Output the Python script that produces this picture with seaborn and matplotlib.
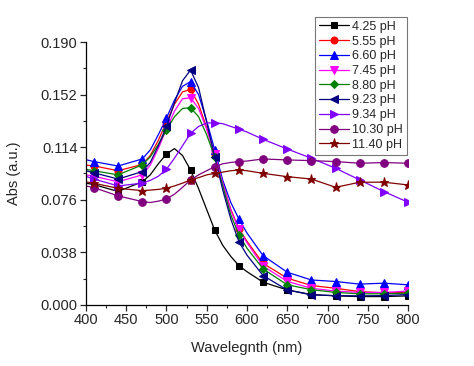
import numpy as np
import pandas as pd
import matplotlib
matplotlib.use("Agg")
import matplotlib.pyplot as plt
from matplotlib.ticker import MultipleLocator, FormatStrFormatter
import seaborn as sns

# wavelength grid (nm) and absorbance
wavelength = [400, 410, 440, 470, 480, 490, 500, 510, 520, 530, 540, 550,
              560, 570, 580, 590, 600, 620, 650, 680, 710, 740, 770, 800]
marker_wl = [410, 440, 470, 500, 530, 560, 590, 620, 650, 680, 710, 740, 770, 800]

labels = ["4.25 pH", "5.55 pH", "6.60 pH", "7.45 pH", "8.80 pH",
          "9.23 pH", "9.34 pH", "10.30 pH", "11.40 pH"]

abs_425 = [0.088, 0.087, 0.082, 0.089, 0.094, 0.102, 0.109, 0.113, 0.108, 0.0975, 0.084, 0.069,
           0.054, 0.043, 0.035, 0.0284, 0.024, 0.0164, 0.0108, 0.0075, 0.0065, 0.006, 0.006, 0.0065]
abs_555 = [0.101, 0.1005, 0.097, 0.1015, 0.108, 0.119, 0.132, 0.145, 0.154, 0.1558, 0.145, 0.128,
           0.109, 0.088, 0.069, 0.055, 0.046, 0.030, 0.0193, 0.014, 0.012, 0.0096, 0.0087, 0.009]
abs_660 = [0.105, 0.1036, 0.1004, 0.1055, 0.112, 0.123, 0.135, 0.148, 0.158, 0.1614, 0.152, 0.133,
           0.112, 0.090, 0.074, 0.062, 0.052, 0.0356, 0.0236, 0.018, 0.0169, 0.015, 0.0157, 0.0145]
abs_745 = [0.094, 0.093, 0.089, 0.094, 0.101, 0.113, 0.127, 0.140, 0.149, 0.1498, 0.142, 0.127,
           0.109, 0.088, 0.068, 0.0547, 0.045, 0.028, 0.017, 0.012, 0.010, 0.009, 0.009, 0.010]
abs_880 = [0.098, 0.097, 0.094, 0.1012, 0.107, 0.116, 0.1264, 0.136, 0.142, 0.1426, 0.136, 0.123,
           0.107, 0.086, 0.065, 0.0506, 0.041, 0.026, 0.0145, 0.011, 0.009, 0.008, 0.008, 0.0085]
abs_923 = [0.097, 0.0955, 0.091, 0.0963, 0.103, 0.115, 0.129, 0.146, 0.162, 0.1698, 0.157, 0.132,
           0.107, 0.083, 0.062, 0.0457, 0.036, 0.0212, 0.0108, 0.0072, 0.0067, 0.0065, 0.0067, 0.0075]
abs_934 = [0.093, 0.091, 0.086, 0.088, 0.090, 0.093, 0.098, 0.106, 0.115, 0.124, 0.129, 0.1315,
           0.1317, 0.131, 0.129, 0.127, 0.125, 0.1197, 0.1127, 0.106, 0.0988, 0.0903, 0.0819, 0.0742]
abs_1030 = [0.086, 0.0848, 0.0788, 0.0747, 0.074, 0.075, 0.0766, 0.080, 0.085, 0.0903, 0.094, 0.097,
            0.0999, 0.102, 0.103, 0.1036, 0.104, 0.1055, 0.1048, 0.1043, 0.1036, 0.1024, 0.1029, 0.1024]
abs_1140 = [0.089, 0.0879, 0.0843, 0.0826, 0.083, 0.0835, 0.0843, 0.086, 0.088, 0.0903, 0.092, 0.094,
            0.0951, 0.096, 0.097, 0.0975, 0.097, 0.0951, 0.0927, 0.091, 0.085, 0.0887, 0.0887, 0.0867]

series = [abs_425, abs_555, abs_660, abs_745, abs_880, abs_923, abs_934, abs_1030, abs_1140]
colors = ["#000000", "#ff0000", "#0000ff", "#ff00ff", "#008000",
          "#000080", "#8000ff", "#800080", "#800000"]
markers = ["s", "o", "^", "v", "D", "<", ">", "o", "*"]
msizes = [4.5, 5, 5.5, 5.5, 4.5, 5.5, 5.5, 5.5, 6.5]

sns.set_style("ticks")
plt.rcParams["font.family"] = ["Liberation Sans", "DejaVu Sans"]

fig = plt.figure(figsize=(4.74, 3.66), dpi=100)
ax = fig.add_axes([0.181, 0.167, 0.68, 0.718])

mark_idx = [wavelength.index(w) for w in marker_wl]
for lab, vals, c, m, ms in zip(labels, series, colors, markers, msizes):
    df = pd.DataFrame({"Wavelength": wavelength, "Abs": vals})
    sns.lineplot(data=df, x="Wavelength", y="Abs", ax=ax, color=c, marker=m,
                 markersize=ms, markevery=mark_idx, linewidth=0.9,
                 markeredgecolor=c, label=lab)

ax.set_xlim(400, 800)
ax.set_ylim(0, 0.19)
ax.xaxis.set_major_locator(MultipleLocator(50))
ax.xaxis.set_minor_locator(MultipleLocator(25))
ax.yaxis.set_major_locator(MultipleLocator(0.038))
ax.yaxis.set_minor_locator(MultipleLocator(0.019))
ax.yaxis.set_major_formatter(FormatStrFormatter("%.3f"))
ax.tick_params(which="major", direction="out", length=4, width=0.9, labelsize=10.5, pad=2)
ax.tick_params(which="minor", direction="out", length=2.5, width=0.8)
sns.despine(ax=ax)
for s in ["left", "bottom"]:
    ax.spines[s].set_linewidth(0.9)
    ax.spines[s].set_color("black")

ax.set_xlabel("Wavelegnth (nm)", fontsize=10.5, labelpad=10)
ax.set_ylabel("Abs (a.u.)", fontsize=10.5, labelpad=14)

leg = ax.legend(loc="upper left", bbox_to_anchor=(315 / 474, 1 - 17 / 366),
                bbox_transform=fig.transFigure, fontsize=9, frameon=True,
                fancybox=False, edgecolor="#555555", handlelength=2.4,
                handletextpad=0.3, labelspacing=0.22, borderpad=0.3,
                borderaxespad=0)
leg.get_frame().set_linewidth(0.8)

fig.savefig("out.png", dpi=100)
